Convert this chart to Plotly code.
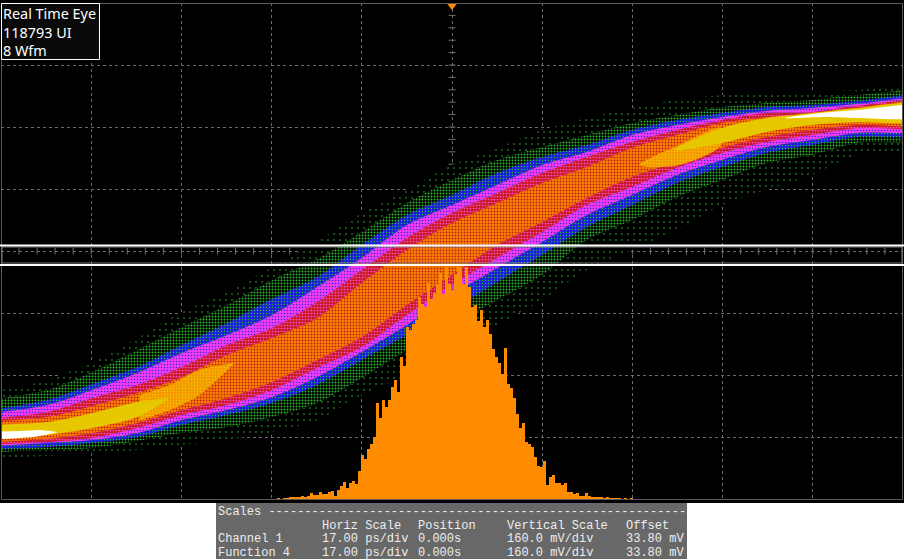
import numpy as np
import plotly.graph_objects as go

# Horizontal stations in ps, vertical values in display counts (62 counts = 1 div)
station_ps = [-90, -76.3, -67.8, -59.3, -50.9, -42.4, -33.9, -25.4, -17.0, -8.5, 0.0,
              8.5, 17.0, 25.4, 33.9, 42.4, 50.9, 59.3, 67.8, 76.3, 90]
fringe_top = [104,119,137,161,187,207,232,258,286,309,334,351,369,381,391,399,404,406,407,409,409]
green_top = [97,109,127,149,172,194,219,240,267,296,319,339,352,364,376,384,392,396,399,404,404]
blue_top = [87,99,115,132,154,176,200,222,254,284,304,326,342,354,369,379,386,392,394,398,401]
magenta_top = [84,94,109,126,146,164,184,212,241,274,294,314,334,347,364,374,382,388,391,395,398]
red_top = [79,87,101,114,132,154,171,197,229,261,286,306,326,342,357,369,379,386,387,393,396]
orange_top = [77,82,93,106,122,144,161,181,216,249,276,296,316,332,351,364,376,382,384,391,396]
orange_bot = [56,60,66,76,89,101,117,139,162,194,224,254,277,301,322,337,351,362,369,374,376]
red_bot = [54,57,61,71,84,94,109,131,152,184,214,241,267,294,312,331,346,357,364,371,374]
magenta_bot = [52,56,59,66,79,89,102,122,147,174,204,231,257,284,304,324,339,352,359,366,371]
blue_bot = [49,52,56,62,74,84,96,114,139,164,189,217,244,272,294,316,332,346,354,362,367]
green_bot = [46,49,51,58,66,72,82,96,121,149,174,199,224,259,279,302,319,336,344,356,362]
fringe_bot = [41,43,46,49,54,59,67,79,104,124,149,174,199,229,249,269,294,309,324,344,354]

mix_left_ps = [-58.8, -53.2, -47.6, -41.0]
mix_left_top = [104,114,129,136]
mix_left_bot = [79,89,104,136]
mix_right_ps = [35.3, 42.8, 50.7]
mix_right_top = [334,354,371]
mix_right_bot = [334,334,354]

yellow_left_ps = [-90, -76.3, -67.8, -59.3, -53.2]
yellow_left_top = [74,77,86,97,101]
yellow_left_bot = [58,64,71,82,101]
yellow_right_ps = [42.0, 50.9, 59.3, 67.8, 76.3, 90]
yellow_right_top = [349,371,381,386,391,395]
yellow_right_bot = [349,356,367,374,377,379]

white_left_ps = [-90, -81.4, -77.7, -74.3]
white_left_top = [67,68,69,67]
white_left_bot = [59,61,63,67]
white_right_ps = [62.8, 71.3, 76.3, 90]
white_right_top = [381,387,389,393]
white_right_bot = [381,382,381,383]

hist_start_ps = -33.9
hist_step_ps = 0.565
hist_counts = [0,0,1,0,1,1,2,2,2,2,3,2,3,6,4,4,7,5,5,7,8,3,9,13,17,11,16,18,15,28,44,40,50,55,62,96,
               81,99,92,99,112,119,107,142,133,172,169,175,179,202,195,192,216,200,206,215,226,205,
               232,215,209,225,232,231,215,232,212,192,194,178,189,172,179,165,150,142,136,125,151,
               115,111,101,85,71,76,57,55,52,42,33,32,38,14,22,24,16,16,14,16,7,7,5,6,3,3,6,3,2,2,2,
               2,1,2,1,1,1,1,0,1,0,1,0,0,0]

box_lines = ["Real Time Eye", "118793 UI", "8 Wfm"]
scales_title = "Scales " + "-" * 58
scales_headers = ["Horiz Scale", "Position", "Vertical Scale", "Offset"]
scales_rows = [["Channel 1", "17.00 ps/div", "0.000s", "160.0 mV/div", "33.80 mV"],
               ["Function 4", "17.00 ps/div", "0.000s", "160.0 mV/div", "33.80 mV"]]

W, H = 904, 559
ML, MR, MT, MB = 1, 1, 3, 60
px = lambda p: (p - ML) / (W - ML - MR)
py = lambda p: 1 - (p - MT) / (H - MT - MB)

fig = go.Figure()

# Centre graticule ticks
fine_x = np.arange(-85, 85.01, 3.4)
fine_y = np.arange(0, 496.01, 12.4)
fig.add_trace(go.Scatter(x=fine_x, y=[248] * len(fine_x), mode="markers", hoverinfo="skip",
                         marker=dict(symbol="line-ns", size=5, line=dict(color="#6e6e6e", width=1))))
fig.add_trace(go.Scatter(x=[0] * len(fine_y), y=fine_y, mode="markers", hoverinfo="skip",
                         marker=dict(symbol="line-ew", size=5, line=dict(color="#6e6e6e", width=1))))


def band(xs, top, bot, bg, fg=None, size=4, solidity=0.3):
    kw = dict(fillcolor=bg)
    if fg:
        kw = dict(fillcolor=bg, fillpattern=dict(shape=".", bgcolor=bg, fgcolor=fg, size=size,
                                                 solidity=solidity, fillmode="replace"))
    fig.add_trace(go.Scatter(x=list(xs) + list(xs)[::-1], y=list(top) + list(bot)[::-1], fill="toself",
                             mode="lines", line=dict(width=0, shape="spline", smoothing=0.9),
                             hoverinfo="skip", **kw))


band(station_ps, fringe_top, fringe_bot, "#000000", "#2eb82e", 6, 0.06)
band(station_ps, green_top, green_bot, "#000000", "#2eb82e", 3, 0.33)
band(station_ps, blue_top, blue_bot, "#1c20d8", "#2eb82e", 3, 0.18)
band(station_ps, magenta_top, magenta_bot, "#f03cf0", "#3c28d8", 3, 0.2)
band(station_ps, red_top, red_bot, "#c81a28", "#ff50d0", 3, 0.25)
band(station_ps, orange_top, orange_bot, "#f58400", "#c81a14", 3, 0.3)
band(mix_left_ps, mix_left_top, mix_left_bot, "#fa9200", "#e6c800", 3, 0.3)
band(mix_right_ps, mix_right_top, mix_right_bot, "#fa9200", "#e6c800", 3, 0.3)
band(yellow_left_ps, yellow_left_top, yellow_left_bot, "#e6c800")
band(yellow_right_ps, yellow_right_top, yellow_right_bot, "#e6c800")
band(white_left_ps, white_left_top, white_left_bot, "#ffffff")
band(white_right_ps, white_right_top, white_right_bot, "#ffffff")

# Histogram
hist_x = hist_start_ps + hist_step_ps * np.arange(len(hist_counts))
fig.add_trace(go.Bar(x=hist_x, y=hist_counts, yaxis="y2", width=hist_step_ps, marker=dict(color="#ff8c00", line=dict(width=0)),
                     hoverinfo="skip"))

# Trigger marker
fig.add_trace(go.Scatter(x=[0], y=[493], yaxis="y2", mode="markers", cliponaxis=False, hoverinfo="skip",
                         marker=dict(symbol="triangle-down", size=8, color="#ff8c00", line=dict(width=0))))

shapes = [
    dict(type="rect", xref="paper", yref="paper", x0=px(0), x1=px(904), y0=py(0), y1=py(503),
         fillcolor="#000000", line=dict(width=0), layer="below"),
    dict(type="rect", xref="paper", yref="paper", x0=px(1.5), x1=px(902.5), y0=py(3.5), y1=py(499.5),
         fillcolor="rgba(0,0,0,0)", line=dict(color="#5a5a5a", width=1), layer="above"),
    dict(type="rect", xref="paper", yref="paper", x0=px(2), x1=px(902), y0=py(247), y1=py(263),
         fillcolor="rgba(0,0,0,0)", line=dict(color="#7a7a7a", width=1), layer="above"),
    dict(type="line", xref="paper", yref="paper", x0=px(0), x1=px(904), y0=py(245.5), y1=py(245.5),
         line=dict(color="#ffffff", width=2), layer="above"),
    dict(type="line", xref="paper", yref="paper", x0=px(0), x1=px(904), y0=py(265), y1=py(265),
         line=dict(color="#ffffff", width=2), layer="above"),
    dict(type="rect", xref="paper", yref="paper", x0=px(1.5), x1=px(99.5), y0=py(3.5), y1=py(59.5),
         fillcolor="#0a0a0a", line=dict(color="#ffffff", width=1), layer="above"),
    dict(type="rect", xref="paper", yref="paper", x0=px(216), x1=px(687), y0=py(503), y1=py(559),
         fillcolor="#686868", line=dict(width=0), layer="above"),
]

ann = []
def label(text, x, y, font, size, color="#ffffff"):
    ann.append(dict(text=text, x=px(x), y=py(y), xref="paper", yref="paper", xanchor="left", yanchor="middle",
                    showarrow=False, font=dict(family=font, size=size, color=color), align="left", borderpad=0))

label("<br>".join(box_lines), 2, 32, "Noto Sans", 14.4)
MONO = "Liberation Mono"
label(scales_title, 217, 512, MONO, 12, "#eeeeee")
for t, xx in zip(scales_headers, [321, 417, 506, 625]):
    label(t, xx, 526, MONO, 12, "#eeeeee")
for row, yy in zip(scales_rows, [539, 553]):
    for t, xx in zip(row, [217, 321, 417, 506, 625]):
        label(t, xx, yy, MONO, 12, "#eeeeee")

fig.update_layout(
    width=W, height=H, margin=dict(l=ML, r=MR, t=MT, b=MB, autoexpand=False),
    paper_bgcolor="#ffffff", plot_bgcolor="#000000", showlegend=False, bargap=0,
    xaxis=dict(range=[-85, 85], tick0=-85, dtick=17, showgrid=True, griddash="dot", gridcolor="#6a6a6a", gridwidth=1,
               zeroline=False, showticklabels=False, ticks="", showline=False),
    yaxis=dict(range=[0, 496], tick0=0, dtick=62, showgrid=True, griddash="dot", gridcolor="#6a6a6a", gridwidth=1,
               zeroline=False, showticklabels=False, ticks="", showline=False),
    yaxis2=dict(range=[0, 496], overlaying="y", visible=False),
    shapes=shapes, annotations=ann,
)
fig.write_html("out.html", config={"displayModeBar": False},
               post_script="document.body.style.margin='0';document.body.style.overflow='hidden';")
